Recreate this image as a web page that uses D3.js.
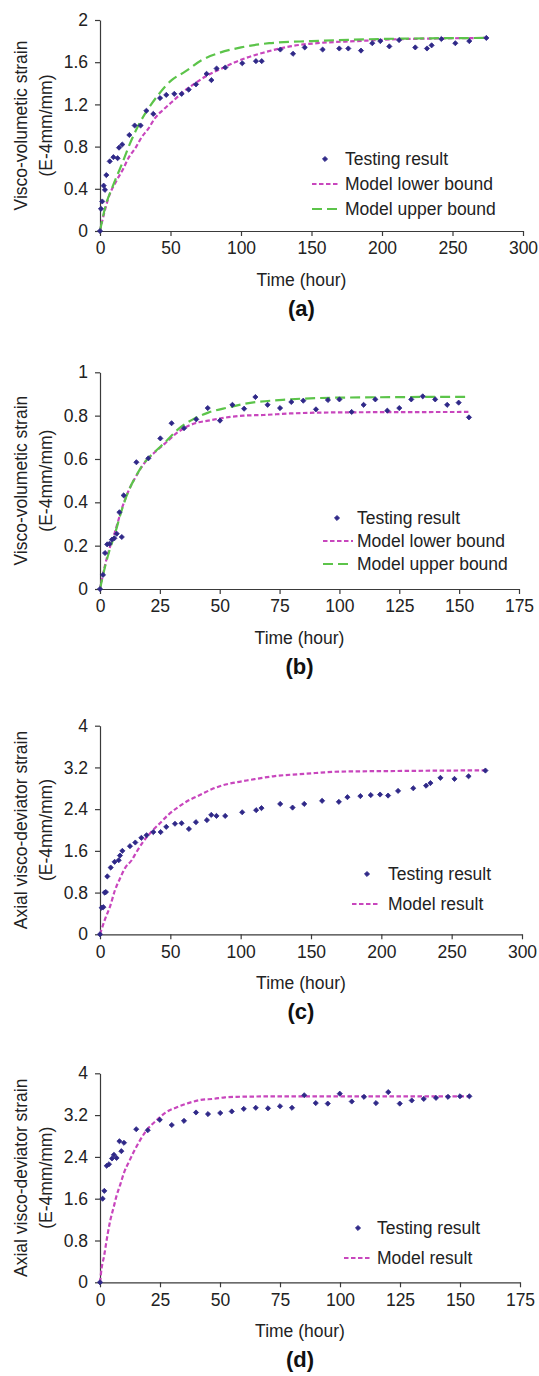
<!DOCTYPE html>
<html>
<head>
<meta charset="utf-8">
<script src="https://cdn.jsdelivr.net/npm/d3@7"></script>
<style>
  body { margin: 0; background: #fff; }
  svg { display: block; font-family: "Liberation Sans", Arial, sans-serif; }
</style>
</head>
<body>
<svg id="chart" width="539" height="1376"></svg>
<script>
// ---- panel (a) : visco-volumetric strain, 0-300 h
const aTest = [[0,0],[0.7,0.21],[1.6,0.28],[2.6,0.43],[3.5,0.39],[4.5,0.53],[6.9,0.66],[9.5,0.70],
  [12.5,0.69],[13.5,0.79],[15.8,0.82],[20.8,0.91],[24.6,1.0],[28.8,1.0],[32.9,1.14],[37.8,1.11],
  [42.6,1.26],[47,1.29],[52.7,1.30],[57.9,1.30],[62.9,1.34],[68.1,1.39],[75.6,1.49],[79,1.43],
  [82.7,1.54],[88.9,1.55],[100.9,1.59],[110.6,1.61],[114.7,1.61],[127.9,1.72],[136.9,1.68],
  [145.2,1.74],[157.9,1.72],[169.7,1.73],[176.1,1.73],[185.1,1.71],[193.1,1.78],[198.8,1.80],
  [205.2,1.75],[212.1,1.81],[223.6,1.74],[231.9,1.73],[235.2,1.76],[242.1,1.82],[252,1.78],
  [261.9,1.80],[274,1.83]];
const aLower = [[0,0],[2.4,0.14],[5.9,0.31],[11.8,0.48],[16.5,0.59],[20.1,0.69],[24.8,0.78],
  [29.6,0.89],[34.3,0.97],[39,1.07],[44.9,1.15],[50.8,1.22],[59.1,1.32],[67.4,1.40],[76.8,1.48],
  [86.3,1.54],[95.7,1.60],[115.8,1.69],[134.8,1.75],[158.4,1.785],[182,1.80],[205,1.815],
  [240,1.825],[274,1.83]];
const aUpper = [[0,0],[3.5,0.215],[9.5,0.44],[15.4,0.63],[21.3,0.83],[27.2,1.0],[34.3,1.16],
  [41.3,1.29],[50.8,1.43],[60.3,1.51],[72.1,1.62],[85,1.69],[100,1.74],[120,1.78],[150,1.80],
  [200,1.82],[274,1.83]];

// ---- panel (b) : visco-volumetric strain, 0-175 h
const bTest = [[0,0],[1.25,0.065],[2.1,0.166],[3.0,0.206],[4.0,0.209],[5.0,0.228],[6.0,0.234],
  [7.0,0.255],[8.1,0.354],[9.1,0.24],[9.9,0.432],[15.2,0.585],[20.2,0.603],[25.2,0.695],
  [29.9,0.765],[35.1,0.742],[40.2,0.783],[45,0.835],[50.1,0.777],[55.3,0.85],[60.2,0.832],
  [64.9,0.886],[70,0.85],[75.2,0.835],[79.9,0.863],[84.9,0.869],[90.2,0.829],[95.2,0.872],
  [100,0.875],[105.1,0.817],[110.1,0.85],[115,0.875],[120,0.823],[125,0.835],[130,0.875],
  [134.8,0.889],[140,0.875],[145,0.85],[149.8,0.86],[154.1,0.792]];
const bLower = [[0,0],[2.1,0.11],[3.8,0.18],[6.3,0.265],[9.1,0.37],[11.8,0.45],[15.3,0.525],
  [18.8,0.585],[23,0.632],[27.2,0.672],[32.7,0.725],[39.7,0.765],[45.2,0.777],[55,0.795],
  [59.9,0.80],[68.2,0.803],[79.3,0.81],[100,0.815],[154.1,0.817]];
const bUpper = [[0,0],[2.1,0.103],[3.8,0.172],[6.3,0.257],[9.1,0.365],[11.8,0.449],[15.3,0.526],
  [18.8,0.587],[23,0.634],[27.2,0.677],[32.7,0.738],[39.7,0.788],[45.2,0.814],[53.6,0.838],
  [59.2,0.852],[79.3,0.875],[100.2,0.883],[154.1,0.887]];

// ---- panel (c) : axial visco-deviator strain, 0-300 h
const cTest = [[0,0],[1.2,0.51],[2.4,0.52],[3.3,0.80],[4.2,0.81],[5.2,1.11],[7.6,1.28],[10.4,1.39],
  [13.3,1.42],[14.2,1.51],[15.9,1.60],[21.3,1.69],[25.1,1.76],[29.4,1.85],[33.1,1.90],[37.9,1.96],
  [43.1,1.96],[47.1,2.06],[53.3,2.12],[58,2.13],[63.2,2.02],[68.2,2.15],[76,2.19],[79.1,2.29],
  [82.8,2.27],[89,2.27],[101.1,2.34],[111,2.38],[114.8,2.42],[128.1,2.50],[136.9,2.43],
  [145.2,2.50],[157.9,2.56],[169.8,2.54],[175.9,2.63],[185.1,2.65],[192.5,2.67],[199.1,2.68],
  [204.8,2.66],[211.9,2.75],[222.7,2.80],[231.8,2.85],[234.9,2.90],[242,3.00],[252,2.98],
  [262,3.03],[274,3.14]];
const cModel = [[0,0],[3.6,0.29],[7.1,0.53],[10.7,0.85],[14.2,1.07],[17.8,1.27],[22.5,1.42],
  [26,1.58],[30.8,1.78],[36.7,1.97],[42.6,2.13],[48.5,2.29],[55.6,2.44],[63.9,2.58],[71,2.67],
  [79.3,2.78],[87.6,2.86],[95.9,2.91],[106.6,2.96],[123.1,3.03],[146.8,3.08],[170.5,3.12],
  [206,3.13],[274,3.145]];

// ---- panel (d) : axial visco-deviator strain, 0-175 h
const dTest = [[0,0],[1.1,1.60],[1.8,1.75],[2.8,2.23],[3.75,2.26],[5,2.37],[5.8,2.44],[6.9,2.38],
  [8.1,2.70],[8.9,2.51],[10,2.67],[15.1,2.93],[19.9,2.91],[24.9,3.11],[29.9,3.01],[35,3.09],
  [40,3.25],[45,3.22],[50.1,3.24],[54.9,3.27],[59.9,3.32],[64.9,3.34],[70,3.33],[75,3.37],
  [80,3.34],[85.1,3.58],[89.9,3.43],[94.9,3.42],[99.9,3.61],[104.9,3.46],[110,3.55],[115,3.43],
  [120.1,3.64],[124.9,3.42],[129.9,3.48],[134.9,3.51],[140,3.53],[145,3.55],[150,3.56],[153.9,3.56]];
const dModel = [[0,0],[0.7,0.28],[1.7,0.50],[2.5,0.73],[3.3,0.95],[4.3,1.19],[5.6,1.42],[6.8,1.64],
  [8.5,1.88],[10.1,2.11],[12.1,2.31],[14.3,2.52],[16.7,2.72],[19.4,2.91],[23.3,3.09],[27.4,3.25],
  [32,3.35],[36.8,3.43],[42,3.49],[47.2,3.51],[52.1,3.54],[57,3.55],[80,3.56],[153.9,3.56]];

const volTitle = ["Visco-volumetic strain", "(E-4mm/mm)"];
const devTitle = ["Axial visco-deviator strain", "(E-4mm/mm)"];
const xTicksLong = [0, 50, 100, 150, 200, 250, 300];
const xTicksShort = [0, 25, 50, 75, 100, 125, 150, 175];

const testColor = "#2f2888";
const lowerStyle = { color: "#c846bd", dash: "4.5,2.5", width: 2.2 };
const upperStyle = { color: "#5cc44a", dash: "10,5", width: 2.2 };

const panels = [
  { tag: "(a)", top: 20, bottom: 231, right: 523, xTicks: xTicksLong, yTicks: [0,0.4,0.8,1.2,1.6,2], yMax: 2,
    title: volTitle, test: aTest,
    lines: [{ data: aLower, style: lowerStyle, name: "Model lower bound" },
            { data: aUpper, style: upperStyle, name: "Model upper bound" }],
    leg: { mx: 325, my: 159, lx0: 312, lx1: 340, tx: 345, gap: 25 } },
  { tag: "(b)", top: 372.3, bottom: 589, right: 519, xTicks: xTicksShort, yTicks: [0,0.2,0.4,0.6,0.8,1], yMax: 1,
    title: volTitle, test: bTest,
    lines: [{ data: bLower, style: lowerStyle, name: "Model lower bound" },
            { data: bUpper, style: upperStyle, name: "Model upper bound" }],
    leg: { mx: 337, my: 518, lx0: 323, lx1: 353, tx: 357, gap: 23 } },
  { tag: "(c)", top: 725.7, bottom: 934.3, right: 522, xTicks: xTicksLong, yTicks: [0,0.8,1.6,2.4,3.2,4], yMax: 4,
    title: devTitle, test: cTest,
    lines: [{ data: cModel, style: lowerStyle, name: "Model result" }],
    leg: { mx: 367, my: 874, lx0: 352, lx1: 380, tx: 388, gap: 30 } },
  { tag: "(d)", top: 1073.3, bottom: 1282.3, right: 520, xTicks: xTicksShort, yTicks: [0,0.8,1.6,2.4,3.2,4], yMax: 4,
    title: devTitle, test: dTest,
    lines: [{ data: dModel, style: lowerStyle, name: "Model result" }],
    leg: { mx: 358, my: 1228, lx0: 344, lx1: 372, tx: 377, gap: 30 } }
];

const svg = d3.select("#chart");
const left = 100;
const fontSize = 17.5;
const textColor = "#222";
const diamond = d3.symbol().type(d3.symbolDiamond2 || d3.symbolDiamond).size(17)();

panels.forEach((p) => {
  const xMax = p.xTicks[p.xTicks.length - 1];
  const x = d3.scaleLinear().domain([0, xMax]).range([left, p.right]);
  const y = d3.scaleLinear().domain([0, p.yMax]).range([p.bottom, p.top]);
  const g = svg.append("g");

  // axes
  const xAxis = g.append("g")
    .attr("transform", `translate(0,${p.bottom})`)
    .call(d3.axisBottom(x).tickValues(p.xTicks).tickSize(5).tickPadding(6).tickSizeOuter(0));
  const yAxis = g.append("g")
    .attr("transform", `translate(${left},0)`)
    .call(d3.axisLeft(y).tickValues(p.yTicks).tickFormat(d3.format("~g")).tickSize(5).tickPadding(7).tickSizeOuter(0));
  [xAxis, yAxis].forEach((a) => {
    a.selectAll("path, line").attr("stroke", "#3a3a3a").attr("stroke-width", 1.2);
    a.selectAll("text").attr("font-size", fontSize).attr("fill", textColor)
      .attr("font-family", "'Liberation Sans', Arial, sans-serif");
  });

  // axis titles
  g.append("text")
    .attr("x", (left + p.right) / 2 - 10).attr("y", p.bottom + 55)
    .attr("text-anchor", "middle").attr("font-size", fontSize).attr("fill", textColor)
    .text("Time (hour)");
  const midY = (p.top + p.bottom) / 2;
  p.title.forEach((t, i) => {
    g.append("text")
      .attr("transform", `translate(${27 + i * 25},${midY}) rotate(-90)`)
      .attr("text-anchor", "middle").attr("font-size", fontSize).attr("fill", textColor)
      .text(t);
  });
  g.append("text")
    .attr("x", (left + p.right) / 2 - 10).attr("y", p.bottom + 85)
    .attr("text-anchor", "middle").attr("font-size", 22).attr("font-weight", "bold").attr("fill", "#111")
    .text(p.tag);

  // model lines
  const line = d3.line().x((d) => x(d[0])).y((d) => y(d[1])).curve(d3.curveMonotoneX);
  p.lines.forEach((l) => {
    g.append("path").datum(l.data).attr("d", line)
      .attr("fill", "none").attr("stroke", l.style.color)
      .attr("stroke-width", l.style.width).attr("stroke-dasharray", l.style.dash);
  });

  // test points
  g.selectAll(".pt").data(p.test).enter().append("path")
    .attr("class", "pt").attr("d", diamond)
    .attr("transform", (d) => `translate(${x(d[0])},${y(d[1])})`)
    .attr("fill", testColor).attr("stroke", testColor).attr("stroke-width", 0.8);

  // legend
  const L = p.leg;
  g.append("path").attr("d", diamond).attr("transform", `translate(${L.mx},${L.my})`)
    .attr("fill", testColor).attr("stroke", testColor).attr("stroke-width", 0.8);
  g.append("text").attr("x", L.tx).attr("y", L.my + 6).attr("font-size", fontSize).attr("fill", textColor)
    .text("Testing result");
  p.lines.forEach((l, i) => {
    const ly = L.my + L.gap * (i + 1);
    g.append("line").attr("x1", L.lx0).attr("x2", L.lx1).attr("y1", ly).attr("y2", ly)
      .attr("stroke", l.style.color).attr("stroke-width", l.style.width)
      .attr("stroke-dasharray", l.style.dash);
    g.append("text").attr("x", L.tx).attr("y", ly + 6).attr("font-size", fontSize).attr("fill", textColor)
      .text(l.name);
  });
});
</script>
</body>
</html>
